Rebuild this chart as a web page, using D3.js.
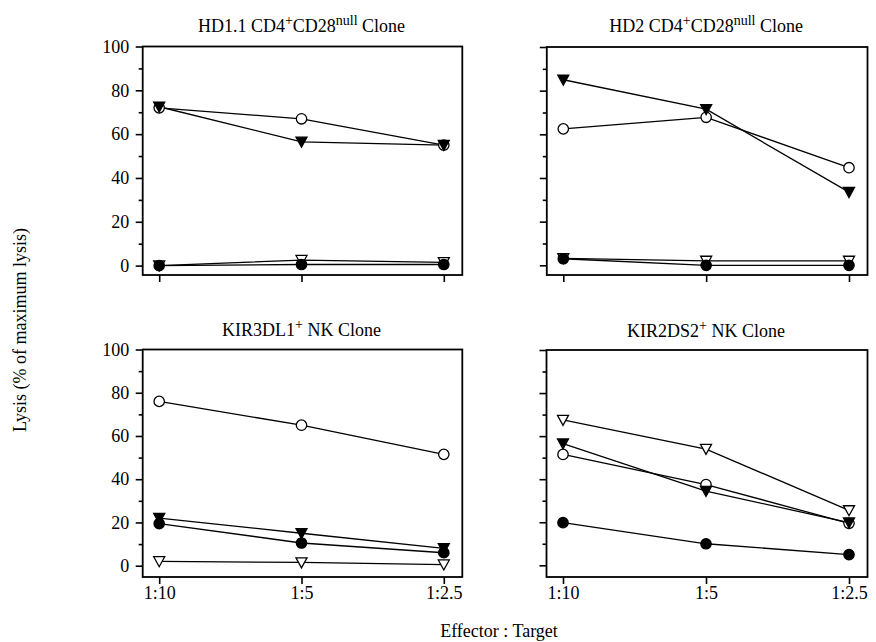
<!DOCTYPE html>
<html>
<head>
<meta charset="utf-8">
<script src="https://cdn.jsdelivr.net/npm/d3@7/dist/d3.min.js"></script>
<style>
  html, body { margin: 0; padding: 0; background: #fff; }
  svg { display: block; }
  text { font-family: "Liberation Serif", "Times New Roman", serif; fill: #000; }
</style>
</head>
<body>
<svg id="chart" width="876" height="642" font-family="Liberation Serif, serif"></svg>
<script>
// Effector : target ratios shared by all four panels
const ratios = ["1:10", "1:5", "1:2.5"];
const yTicks = [0, 20, 40, 60, 80, 100];
const yMinorTicks = [10, 30, 50, 70, 90];

// HD1.1 CD4+CD28null clone
const hd11OpenCircle     = [72, 67, 55];
const hd11FilledTriangle = [72.5, 56.5, 55];
const hd11OpenTriangle   = [0, 2.5, 1.5];
const hd11FilledCircle   = [0, 0.5, 0.5];

// HD2 CD4+CD28null clone
const hd2OpenCircle     = [62.5, 67.8, 44.7];
const hd2FilledTriangle = [85, 71.5, 33.5];
const hd2OpenTriangle   = [3.2, 2, 2];
const hd2FilledCircle   = [3, 0, 0];

// KIR3DL1+ NK clone
const kir3OpenCircle     = [76, 65, 51.5];
const kir3FilledTriangle = [22, 15, 8];
const kir3FilledCircle   = [19.5, 10.5, 6];
const kir3OpenTriangle   = [2, 1.5, 0.5];

// KIR2DS2+ NK clone
const kir2OpenTriangle   = [67.5, 54, 25.5];
const kir2FilledTriangle = [56.5, 34.5, 19.8];
const kir2OpenCircle     = [51.5, 37.5, 19.5];
const kir2FilledCircle   = [19.8, 10, 5];

const panels = [
  { title: ["HD1.1 CD4", "+", "CD28", "null", " Clone"],
    series: { openCircle: hd11OpenCircle, openTriangle: hd11OpenTriangle,
              filledCircle: hd11FilledCircle, filledTriangle: hd11FilledTriangle },
    box: { l: 142.7, r: 462.3, t: 46.5, b: 275, y0: 265.6 }, yLabels: true, xLabels: false, titleY: 32 },
  { title: ["HD2 CD4", "+", "CD28", "null", " Clone"],
    series: { openCircle: hd2OpenCircle, openTriangle: hd2OpenTriangle,
              filledCircle: hd2FilledCircle, filledTriangle: hd2FilledTriangle },
    box: { l: 546.8, r: 867.5, t: 47, b: 275, y0: 265.3 }, yLabels: false, xLabels: false, titleY: 32 },
  { title: ["KIR3DL1", "+", " NK Clone"],
    series: { openCircle: kir3OpenCircle, openTriangle: kir3OpenTriangle,
              filledCircle: kir3FilledCircle, filledTriangle: kir3FilledTriangle },
    box: { l: 142.7, r: 462.3, t: 349.5, b: 577, y0: 565.7 }, yLabels: true, xLabels: true, titleY: 336 },
  { title: ["KIR2DS2", "+", " NK Clone"],
    series: { openCircle: kir2OpenCircle, openTriangle: kir2OpenTriangle,
              filledCircle: kir2FilledCircle, filledTriangle: kir2FilledTriangle },
    box: { l: 546.5, r: 867.5, t: 350, b: 577, y0: 565.3 }, yLabels: false, xLabels: true, titleY: 336.5 }
];

// Marker styles; later entries are drawn on top
const markerOrder = ["openCircle", "openTriangle", "filledCircle", "filledTriangle"];
const markerStyle = {
  openCircle:     { shape: "circle",   fill: "#fff" },
  filledCircle:   { shape: "circle",   fill: "#000" },
  openTriangle:   { shape: "triangle", fill: "#fff" },
  filledTriangle: { shape: "triangle", fill: "#000" }
};

// Downward-pointing triangle symbol
const downTriangle = {
  draw(ctx, size) {
    const w = Math.sqrt(size) * 0.78, h = Math.sqrt(size) * 0.66;
    ctx.moveTo(-w, -h);
    ctx.lineTo(w, -h);
    ctx.lineTo(0, h * 1.15);
    ctx.closePath();
  }
};

const serif = "'Liberation Serif', 'Times New Roman', serif";
const svg = d3.select("#chart");

panels.forEach(p => {
  const b = p.box;
  const x = d3.scalePoint().domain(ratios).range([b.l + 16.5, b.r - 18.5]);
  const y = d3.scaleLinear().domain([0, 100]).range([b.y0, b.t]);
  const g = svg.append("g");

  // Major y ticks
  const yAxis = d3.axisLeft(y).tickValues(yTicks).tickSize(7).tickPadding(6.5)
    .tickFormat(p.yLabels ? d3.format("d") : () => "");
  const ya = g.append("g").attr("transform", `translate(${b.l},0)`).call(yAxis);
  // Minor y ticks
  const ym = g.append("g").attr("transform", `translate(${b.l},0)`)
    .call(d3.axisLeft(y).tickValues(yMinorTicks).tickSize(4).tickFormat(() => ""));

  // X ticks
  const xAxis = d3.axisBottom(x).tickSize(7).tickPadding(2)
    .tickFormat(p.xLabels ? (d => d) : () => "");
  const xa = g.append("g").attr("transform", `translate(0,${b.b})`).call(xAxis);

  [ya, ym, xa].forEach(a => {
    a.attr("font-family", serif).attr("font-size", 18);
    a.select(".domain").remove();
    a.selectAll(".tick line").attr("stroke", "#000").attr("stroke-width", 1.6);
    a.selectAll("text").style("font-size", "18px").style("font-family", serif);
  });

  // Plot frame
  g.append("rect")
    .attr("x", b.l).attr("y", b.t)
    .attr("width", b.r - b.l).attr("height", b.b - b.t)
    .attr("fill", "none").attr("stroke", "#000").attr("stroke-width", 1.8);

  // Panel title with superscripts
  const t = g.append("text")
    .attr("x", (b.l + b.r) / 2 - 1).attr("y", p.titleY)
    .attr("text-anchor", "middle").style("font-size", "18px").style("font-family", serif);
  let raised = false;
  p.title.forEach((part, i) => {
    const sup = (p.title.length === 5) ? (i === 1 || i === 3) : (i === 1);
    const ts = t.append("tspan").text(part);
    if (sup && !raised) { ts.attr("dy", -7).style("font-size", "14px"); raised = true; }
    else if (!sup && raised) { ts.attr("dy", 7); raised = false; }
  });

  // Series lines
  const line = d3.line().x((d, i) => x(ratios[i])).y(d => y(d));
  markerOrder.forEach(key => {
    g.append("path").datum(p.series[key])
      .attr("d", line).attr("fill", "none")
      .attr("stroke", "#000").attr("stroke-width", 1.3);
  });

  // Series markers
  markerOrder.forEach(key => {
    const st = markerStyle[key];
    const sym = st.shape === "circle"
      ? d3.symbol().type(d3.symbolCircle).size(Math.PI * 5.2 * 5.2)
      : d3.symbol().type(downTriangle).size(50);
    g.selectAll(null).data(p.series[key]).join("path")
      .attr("transform", (d, i) => `translate(${x(ratios[i])},${y(d)})`)
      .attr("d", sym)
      .attr("fill", st.fill).attr("stroke", "#000").attr("stroke-width", 1.3);
  });
});

// Shared axis titles
svg.append("text")
  .attr("x", 499).attr("y", 637)
  .attr("text-anchor", "middle").style("font-size", "18px").style("font-family", serif)
  .text("Effector : Target");

svg.append("text")
  .attr("transform", "translate(26,330) rotate(-90)")
  .attr("text-anchor", "middle").style("font-size", "18px").style("font-family", serif)
  .text("Lysis (% of maximum lysis)");
</script>
</body>
</html>
